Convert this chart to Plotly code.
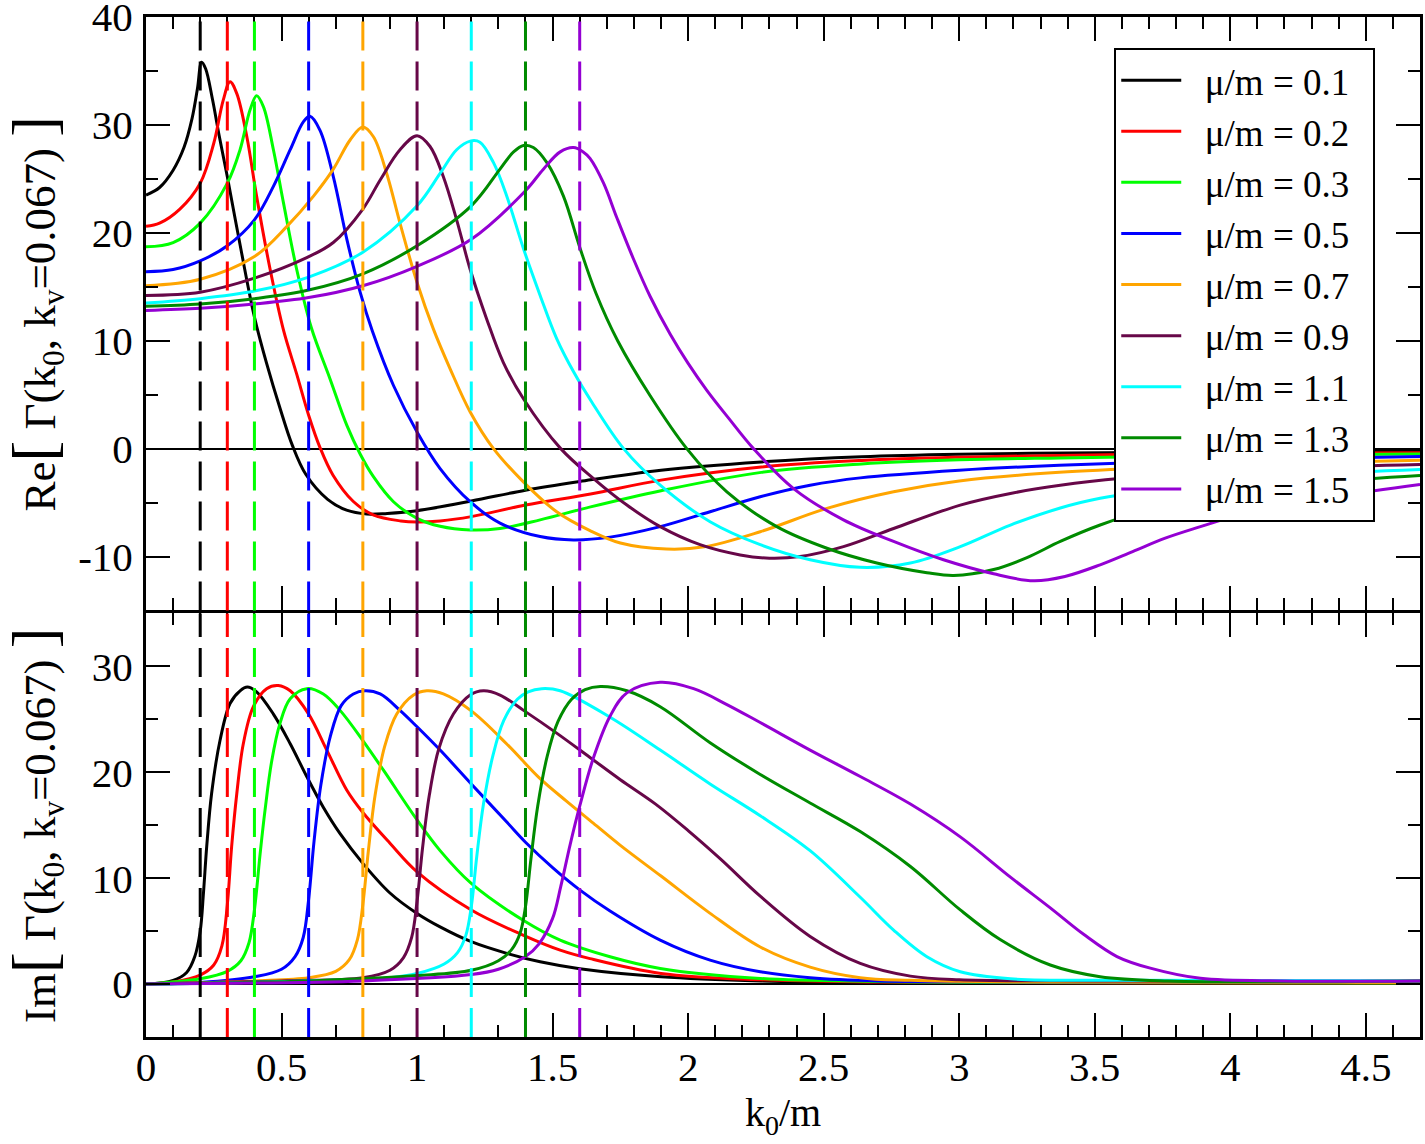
import plotly.graph_objects as go
from plotly.subplots import make_subplots

# ---------------- data ----------------
MU_LABELS = ["0.1", "0.2", "0.3", "0.5", "0.7", "0.9", "1.1", "1.3", "1.5"]
COLORS = ["#000000", "#ff0000", "#00ff00", "#0000ff", "#ffa500",
          "#670748", "#00ffff", "#008b00", "#9400d3"]
THRESHOLDS = [0.2, 0.3, 0.4, 0.6, 0.8, 1.0, 1.2, 1.4, 1.6]

X_TICKS = [0, 0.5, 1, 1.5, 2, 2.5, 3, 3.5, 4, 4.5]
RE_TICKS = [-10, 0, 10, 20, 30, 40]
RE_TICKTEXT = ["-10", "0", "10", "20", "30", "40"]
IM_TICKS = [0, 10, 20, 30]
IM_TICKTEXT = ["0", "10", "20", "30"]

# Real part
RE_X_01 = [0, 0.05, 0.10, 0.14, 0.17, 0.19, 0.205, 0.22, 0.245, 0.27, 0.30, 0.35, 0.40, 0.445, 0.495,
           0.54, 0.59, 0.67, 0.74, 0.815, 0.89, 1.0, 1.2, 1.4, 1.6, 1.9, 2.27, 2.64, 3.0, 3.4, 3.8, 4.2, 4.7]
RE_Y_01 = [23.5, 24.2, 25.8, 27.9, 30.6, 33.4, 35.8, 35.2, 32.4, 29.0, 25.2, 18.5, 12.2, 7.9, 3.7,
           0.3, -2.4, -4.7, -5.7, -6.06, -6.0, -5.75, -4.86, -3.85, -3.05, -2.0, -1.23, -0.75, -0.52,
           -0.4, -0.33, -0.29, -0.25]

RE_X_02 = [0, 0.05, 0.125, 0.2, 0.25, 0.285, 0.31, 0.335, 0.372, 0.408, 0.458, 0.507, 0.556, 0.6, 0.642,
           0.69, 0.765, 0.84, 0.94, 1.0, 1.085, 1.2, 1.4, 1.64, 1.9, 2.27, 2.64, 3.0, 3.37, 3.8, 4.2, 4.7]
RE_Y_02 = [20.6, 20.9, 22.2, 24.6, 28.3, 32.3, 34.0, 32.9, 28.9, 23.4, 16.6, 11.0, 6.9, 3.1, 0.1,
           -2.46, -4.9, -6.16, -6.7, -6.8, -6.7, -6.3, -5.23, -4.2, -2.92, -1.7, -1.1, -0.8, -0.63, -0.5,
           -0.42, -0.37]

RE_X_03 = [0, 0.1, 0.2, 0.3, 0.347, 0.384, 0.408, 0.433, 0.47, 0.507, 0.556, 0.61, 0.679, 0.741, 0.79,
           0.839, 0.913, 1.0, 1.085, 1.196, 1.306, 1.454, 1.64, 1.9, 2.27, 2.64, 3.0, 3.37, 3.8, 4.2, 4.7]
RE_Y_03 = [18.7, 19.1, 20.9, 24.6, 27.7, 31.4, 32.7, 31.7, 27.7, 22.8, 16.6, 11.2, 6.46, 2.15, -0.5,
           -2.6, -4.92, -6.46, -7.2, -7.54, -7.4, -6.6, -5.4, -3.9, -2.2, -1.42, -1.04, -0.86, -0.7,
           -0.58, -0.49]

RE_X_05 = [0, 0.1, 0.2, 0.3, 0.4, 0.47, 0.532, 0.581, 0.605, 0.642, 0.691, 0.741, 0.79, 0.835, 0.913,
           1.0, 1.085, 1.196, 1.306, 1.454, 1.577, 1.712, 1.897, 2.081, 2.266, 2.45, 2.635, 3.0, 3.37,
           3.8, 4.2, 4.7]
RE_Y_05 = [16.4, 16.6, 17.4, 18.8, 21.2, 24.3, 27.7, 30.3, 30.8, 29.5, 25.2, 19.4, 14.5, 10.9, 5.85,
           1.54, -1.85, -4.92, -6.9, -8.15, -8.46, -8.2, -7.23, -5.85, -4.46, -3.39, -2.71, -2.0,
           -1.54, -1.2, -0.95, -0.74]

RE_X_07 = [0, 0.2, 0.4, 0.52, 0.618, 0.691, 0.753, 0.8, 0.839, 0.888, 0.937, 1.0, 1.06, 1.122, 1.196,
           1.282, 1.393, 1.515, 1.638, 1.75, 1.92, 2.06, 2.266, 2.512, 2.758, 3.0, 3.37, 3.8, 4.2, 4.7]
RE_Y_07 = [15.1, 15.7, 17.8, 20.6, 23.4, 25.9, 28.6, 29.8, 28.9, 25.5, 20.9, 15.4, 11.1, 7.4, 3.4,
           0.0, -3.1, -5.85, -7.6, -8.75, -9.3, -9.1, -7.7, -5.54, -4.0, -3.0, -2.2, -1.7, -1.35, -1.08]

RE_X_09 = [0, 0.2, 0.4, 0.593, 0.691, 0.8, 0.864, 0.937, 1.0, 1.048, 1.097, 1.146, 1.196, 1.257, 1.318,
           1.393, 1.53, 1.651, 1.774, 1.897, 2.044, 2.192, 2.3, 2.413, 2.573, 2.758, 3.004, 3.189,
           3.373, 3.6, 3.9, 4.3, 4.7]
RE_Y_09 = [14.2, 14.5, 15.8, 17.7, 19.1, 22.2, 24.9, 27.7, 29.0, 28.0, 25.2, 21.2, 16.6, 12.0, 8.0,
           4.6, 0.0, -2.77, -5.23, -7.23, -8.9, -9.85, -10.16, -10.0, -9.08, -7.4, -5.23, -4.15,
           -3.4, -2.75, -2.2, -1.75, -1.48]

RE_X_11 = [0, 0.2, 0.4, 0.6, 0.8, 1.0, 1.085, 1.146, 1.196, 1.232, 1.282, 1.331, 1.393, 1.454, 1.515,
           1.58, 1.645, 1.762, 1.897, 2.081, 2.266, 2.45, 2.635, 2.82, 3.004, 3.189, 3.373, 3.52, 3.9,
           4.3, 4.7]
RE_Y_11 = [13.5, 13.9, 14.6, 15.9, 18.2, 22.5, 25.5, 27.7, 28.5, 28.4, 26.5, 23.4, 18.5, 14.2, 10.2,
           7.0, 4.3, 0.0, -3.39, -6.77, -8.9, -10.3, -11.0, -10.6, -9.08, -7.08, -5.5, -4.6, -3.3,
           -2.4, -1.94]

RE_X_13 = [0, 0.2, 0.4, 0.6, 0.8, 1.0, 1.2, 1.306, 1.356, 1.393, 1.429, 1.479, 1.54, 1.601, 1.66,
           1.74, 1.86, 1.995, 2.143, 2.327, 2.512, 2.696, 2.881, 2.98, 3.127, 3.25, 3.373, 3.52, 3.69,
           4.0, 4.35, 4.7]
RE_Y_13 = [13.2, 13.4, 13.9, 14.7, 16.2, 18.8, 22.5, 25.9, 27.5, 28.1, 27.9, 26.5, 23.4, 18.6, 14.4,
           10.0, 4.9, 0.0, -4.0, -7.23, -9.23, -10.6, -11.5, -11.76, -11.2, -10.1, -8.6, -7.08, -5.7,
           -4.0, -3.1, -2.49]

RE_X_15 = [0, 0.2, 0.4, 0.6, 0.8, 1.0, 1.2, 1.4, 1.466, 1.528, 1.577, 1.613, 1.638, 1.688, 1.737, 1.798,
           1.86, 1.934, 2.0, 2.069, 2.15, 2.241, 2.389, 2.573, 2.758, 2.942, 3.127, 3.275, 3.39, 3.52, 3.64,
           3.76, 3.89, 4.01, 4.1, 4.4, 4.7]
RE_Y_15 = [12.8, 13.0, 13.4, 14.0, 15.1, 16.9, 19.4, 23.9, 25.9, 27.5, 27.9, 27.5, 26.9, 24.6, 21.4,
           17.6, 14.1, 10.6, 7.9, 5.4, 2.8, 0.0, -3.7, -6.6, -8.6, -10.3, -11.6, -12.25, -11.85, -10.77,
           -9.54, -8.3, -7.23, -6.3, -5.75, -4.4, -3.32]

# Imaginary part
IM_X_01 = [0, 0.1, 0.15, 0.18, 0.2, 0.212, 0.224, 0.242, 0.273, 0.31, 0.347, 0.374, 0.408, 0.47, 0.532,
           0.593, 0.654, 0.716, 0.8, 0.9, 1.0, 1.085, 1.2, 1.331, 1.454, 1.6, 1.9, 2.27, 2.7, 3.5, 4.7]
IM_Y_01 = [0, 0.35, 1.1, 2.6, 5.0, 8.6, 13.0, 18.0, 23.0, 26.5, 27.7, 28.05, 27.6, 25.5, 22.7, 19.6,
           16.7, 14.2, 11.4, 8.6, 6.67, 5.4, 4.0, 2.9, 2.1, 1.45, 0.69, 0.3, 0.15, 0.1, 0.1]

IM_X_02 = [0, 0.1, 0.2, 0.25, 0.28, 0.3, 0.316, 0.335, 0.359, 0.396, 0.445, 0.488, 0.532, 0.6,
           0.667, 0.741, 0.8, 0.9, 1.0, 1.2, 1.393, 1.528, 1.638, 1.9, 2.27, 2.7, 3.5, 4.7]
IM_Y_02 = [0, 0.2, 0.85, 1.8, 3.6, 7.5, 13.0, 18.0, 22.7, 26.2, 27.9, 28.2, 27.7, 25.5, 22.1, 18.3,
           16.2, 13.3, 10.6, 7.0, 4.6, 3.2, 2.4, 1.0, 0.4, 0.2, 0.12, 0.1]

IM_X_03 = [0, 0.2, 0.3, 0.35, 0.38, 0.4, 0.421, 0.439, 0.464, 0.494, 0.532, 0.593, 0.654, 0.716,
           0.8, 0.876, 1.0, 1.085, 1.2, 1.393, 1.528, 1.712, 1.897, 2.266, 2.7, 3.2, 4.7]
IM_Y_03 = [0, 0.5, 1.2, 2.2, 3.9, 7.0, 12.3, 16.4, 21.1, 24.6, 26.95, 27.9, 27.4, 25.85, 23.0, 20.2,
           15.5, 12.6, 9.5, 6.0, 4.15, 2.58, 1.48, 0.53, 0.25, 0.15, 0.1]

IM_X_05 = [0, 0.2, 0.4, 0.5, 0.55, 0.58, 0.6, 0.62, 0.645, 0.68, 0.72, 0.765, 0.808, 0.864, 0.937, 1.0,
           1.085, 1.2, 1.331, 1.4, 1.5, 1.6, 1.712, 1.897, 2.081, 2.266, 2.45, 2.7, 3.2, 4.7]
IM_Y_05 = [0, 0.15, 0.69, 1.4, 2.6, 4.4, 8.0, 13.5, 18.8, 23.4, 26.3, 27.4, 27.7, 27.4, 25.85, 24.3,
           22.1, 18.9, 15.3, 13.4, 11.0, 8.9, 6.9, 4.15, 2.26, 1.16, 0.6, 0.3, 0.2, 0.15]

IM_X_07 = [0, 0.4, 0.6, 0.7, 0.75, 0.78, 0.8, 0.82, 0.845, 0.88, 0.925, 0.987, 1.036, 1.097, 1.2, 1.33,
           1.45, 1.55, 1.65, 1.75, 1.9, 2.08, 2.266, 2.45, 2.635, 2.82, 3.2, 4.7]
IM_Y_07 = [0, 0.3, 0.6, 1.2, 2.3, 4.2, 7.5, 12.5, 17.8, 22.4, 25.5, 27.3, 27.7, 27.4, 25.8, 22.7,
           19.5, 17.3, 15.2, 13.1, 10.2, 6.7, 3.5, 1.6, 0.6, 0.35, 0.2, 0.15]

IM_X_09 = [0, 0.5, 0.8, 0.9, 0.95, 0.98, 1.0, 1.02, 1.045, 1.08, 1.134, 1.196, 1.245, 1.306, 1.393,
           1.515, 1.638, 1.75, 1.88, 2.0, 2.12, 2.266, 2.45, 2.635, 2.82, 3.0, 3.5, 4.7]
IM_Y_09 = [0, 0.3, 0.6, 1.3, 2.5, 4.4, 7.8, 12.8, 17.8, 22.2, 25.5, 27.3, 27.7, 27.3, 25.85, 23.7,
           21.4, 19.3, 17.0, 14.5, 11.8, 8.3, 4.5, 1.95, 0.75, 0.4, 0.3, 0.3]

IM_X_11 = [0, 0.6, 0.9, 1.0, 1.1, 1.15, 1.18, 1.2, 1.22, 1.245, 1.28, 1.32, 1.37, 1.41, 1.46, 1.528,
           1.712, 1.897, 2.081, 2.266, 2.45, 2.635, 2.758, 2.881, 3.004, 3.189, 3.6, 4.7]
IM_Y_11 = [0, 0.3, 0.6, 1.0, 1.9, 3.0, 4.6, 7.3, 12.0, 17.0, 21.6, 24.9, 26.9, 27.6, 27.9, 27.7,
           25.2, 22.1, 18.9, 15.9, 12.6, 8.2, 5.1, 2.58, 1.16, 0.5, 0.35, 0.3]

IM_X_13 = [0, 0.6, 1.0, 1.2, 1.3, 1.35, 1.38, 1.4, 1.42, 1.445, 1.48, 1.52, 1.57, 1.62, 1.676,
           1.774, 1.897, 2.081, 2.266, 2.45, 2.635, 2.82, 3.004, 3.151, 3.336, 3.52, 3.77, 4.7]
IM_Y_13 = [0, 0.3, 0.8, 1.3, 2.2, 3.3, 4.8, 7.3, 11.8, 16.8, 21.5, 24.8, 26.9, 27.8, 28.1, 27.7,
           26.2, 22.8, 19.8, 17.1, 14.4, 11.1, 7.0, 4.2, 1.8, 0.7, 0.3, 0.3]

IM_X_15 = [0, 0.8, 1.2, 1.3, 1.4, 1.45, 1.5, 1.53, 1.565, 1.6, 1.651, 1.712, 1.774, 1.897, 2.02, 2.143,
           2.266, 2.45, 2.635, 2.82, 3.004, 3.189, 3.336, 3.459, 3.582, 3.705, 3.89, 4.2, 4.7]
IM_Y_15 = [0, 0.3, 0.9, 1.4, 2.6, 3.8, 6.2, 9.2, 13.2, 16.8, 21.4, 25.3, 27.5, 28.5, 27.9, 26.4, 24.7,
           22.1, 19.6, 17.0, 13.9, 10.1, 7.2, 4.7, 2.6, 1.5, 0.54, 0.3, 0.3]

RE_XS = [RE_X_01, RE_X_02, RE_X_03, RE_X_05, RE_X_07, RE_X_09, RE_X_11, RE_X_13, RE_X_15]
RE_YS = [RE_Y_01, RE_Y_02, RE_Y_03, RE_Y_05, RE_Y_07, RE_Y_09, RE_Y_11, RE_Y_13, RE_Y_15]
IM_XS = [IM_X_01, IM_X_02, IM_X_03, IM_X_05, IM_X_07, IM_X_09, IM_X_11, IM_X_13, IM_X_15]
IM_YS = [IM_Y_01, IM_Y_02, IM_Y_03, IM_Y_05, IM_Y_07, IM_Y_09, IM_Y_11, IM_Y_13, IM_Y_15]

# ---------------- figure ----------------
FONT = "Liberation Serif, Times New Roman, serif"
NB = "\u00a0"

fig = make_subplots(rows=2, cols=1, shared_xaxes=True, vertical_spacing=0)

for i, mu in enumerate(MU_LABELS):
    fig.add_trace(go.Scatter(x=RE_XS[i], y=RE_YS[i], mode="lines",
                             name=NB * 2 + "μ/m = " + mu + NB * 2,
                             line=dict(color=COLORS[i], width=3, shape="spline", smoothing=1.0),
                             showlegend=True, legendgroup="g" + mu, hoverinfo="skip"),
                  row=1, col=1)
for i, mu in enumerate(MU_LABELS):
    fig.add_trace(go.Scatter(x=IM_XS[i], y=IM_YS[i], mode="lines", name="μ/m = " + mu,
                             line=dict(color=COLORS[i], width=3, shape="spline", smoothing=1.0),
                             showlegend=False, legendgroup="g" + mu, hoverinfo="skip"),
                  row=2, col=1)

for i, t in enumerate(THRESHOLDS):
    for r in (1, 2):
        fig.add_vline(x=t, row=r, col=1,
                      line=dict(color=COLORS[i], width=3, dash="29px,11px"), layer="above")

tickfont = dict(family=FONT, size=41, color="black")
axis_common = dict(showline=True, linecolor="black", linewidth=3, mirror="ticks",
                   ticks="inside", ticklen=24, tickwidth=2, tickcolor="black",
                   showgrid=False, tickfont=tickfont, ticklabeloverflow="allow")

fig.update_xaxes(range=[0, 4.7], tickmode="array", tickvals=X_TICKS, zeroline=False,
                 minor=dict(ticks="inside", ticklen=12, tickwidth=2, tickcolor="black",
                            tickmode="linear", tick0=0, dtick=0.1, showgrid=False),
                 **axis_common)
fig.update_xaxes(showticklabels=False, row=1, col=1)
fig.update_xaxes(title=dict(text="k<sub>0</sub>/m", font=dict(family=FONT, size=40, color="black"),
                            standoff=0),
                 ticklabelstandoff=-8, row=2, col=1)

BR = '<span style="font-size:62px">%s</span>'
fig.update_yaxes(domain=[0.41814, 1.0], range=[-15, 40], tickmode="array", tickvals=RE_TICKS,
                 ticktext=RE_TICKTEXT,
                 zeroline=True, zerolinecolor="black", zerolinewidth=1.5,
                 minor=dict(ticks="inside", ticklen=12, tickwidth=2, tickcolor="black",
                            tickmode="linear", tick0=0, dtick=5, showgrid=False),
                 ticklabelstandoff=2,
                 title=dict(text="Re" + BR % "[" + " Γ(k<sub>0</sub>, k<sub>v</sub>=0.067) " + BR % "]",
                            font=dict(family=FONT, size=45, color="black"), standoff=24),
                 row=1, col=1, **axis_common)
fig.update_yaxes(domain=[0.0, 0.41520], range=[-5, 35], tickmode="array", tickvals=IM_TICKS,
                 ticktext=IM_TICKTEXT,
                 zeroline=True, zerolinecolor="black", zerolinewidth=1.5,
                 minor=dict(ticks="inside", ticklen=12, tickwidth=2, tickcolor="black",
                            tickmode="linear", tick0=0, dtick=5, showgrid=False),
                 ticklabelstandoff=2,
                 title=dict(text="Im" + BR % "[" + " Γ(k<sub>0</sub>, k<sub>v</sub>=0.067) " + BR % "]",
                            font=dict(family=FONT, size=45, color="black"), standoff=24),
                 row=2, col=1, **axis_common)

fig.update_layout(
    width=1425, height=1144,
    margin=dict(l=146, r=5, t=17, b=107, autoexpand=False),
    paper_bgcolor="white", plot_bgcolor="white",
    font=dict(family=FONT, color="black"),
    legend=dict(x=0.76, y=0.97, xanchor="left", yanchor="top", bgcolor="white",
                bordercolor="black", borderwidth=2, tracegroupgap=0, itemwidth=60,
                font=dict(family=FONT, size=37, color="black")),
)

fig.write_html("out.html")
